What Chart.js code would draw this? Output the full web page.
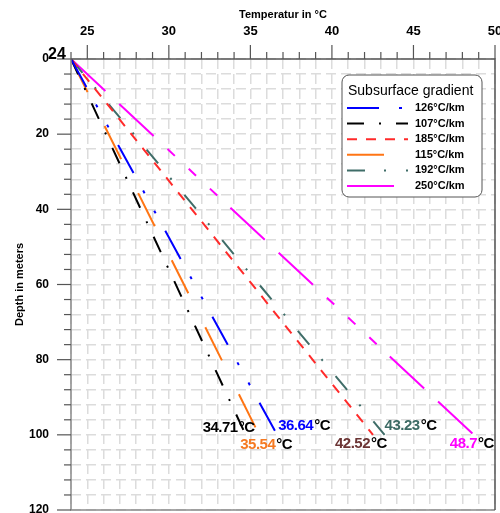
<!DOCTYPE html>
<html>
<head>
<meta charset="utf-8">
<title>Subsurface gradient</title>
<script src="https://cdn.jsdelivr.net/npm/chart.js@4.4.1/dist/chart.umd.min.js"></script>
<style>
    html, body { margin: 0; padding: 0; background: #fff; }
    #wrap { width: 500px; height: 513px; }
</style>
</head>
<body>
<div id="wrap"><canvas id="gradChart" width="500" height="513"></canvas></div>
<script>
// Dati
const surfaceTemp = 24;
const depths = [0, 100];
const gradientLabels = ['126°C/km', '107°C/km', '185°C/km', '115°C/km', '192°C/km', '250°C/km'];
const bottomTemps = [36.64, 34.71, 42.52, 35.54, 43.23, 48.7];
const xTickLabels = [25, 30, 35, 40, 45, 50];
const yTickLabels = [0, 20, 40, 60, 80, 100, 120];

// Stili delle serie
const lineColors = ['#0000ff', '#000000', '#ff2a2a', '#ff7514', '#3f6d68', '#ff00ff'];
const labelColors = ['#0000ff', '#000000', '#6b3434', '#f57a22', '#3c6a64', '#ff00ff'];
const lineDashes = [
    [32, 20, 3, 20, 3, 20],
    [17, 15, 2, 15],
    [10, 9],
    [37, 38],
    [18, 19, 2, 20],
    [47, 19, 47, 19, 10, 19, 10, 19, 10, 18]
];
// spostamento (px) delle etichette di fondo rispetto alla fine della linea
const labelOffsets = [[1, -9], [-43, -7], [-38, 9], [-19, 10], [0, -9], [-24, 9]];

const FONT = "'Liberation Sans', Arial, sans-serif";

const datasets = gradientLabels.map((label, i) => ({
    label: label,
    data: depths.map((d, k) => ({ x: k === 0 ? surfaceTemp : bottomTemps[i], y: d })),
    showLine: true,
    borderColor: lineColors[i],
    backgroundColor: lineColors[i],
    borderWidth: 2,
    borderDash: lineDashes[i],
    pointRadius: 0,
    fill: false
}));

// Cornice, tacche, legenda ed etichette
const decorPlugin = {
    id: 'decor',
    afterDatasetsDraw(chart) {
        const ctx = chart.ctx;
        const area = chart.chartArea;
        const xs = chart.scales.x;
        const ys = chart.scales.y;
        ctx.save();

        // cornice
        ctx.setLineDash([]);
        ctx.lineWidth = 1.5;
        ctx.strokeStyle = '#8a8a8a';
        ctx.beginPath();
        ctx.moveTo(area.left, area.top);
        ctx.lineTo(area.left, area.bottom);
        ctx.lineTo(area.right, area.bottom);
        ctx.stroke();
        ctx.strokeStyle = '#555';
        ctx.beginPath();
        ctx.moveTo(area.left, area.top);
        ctx.lineTo(area.right, area.top);
        ctx.lineTo(area.right, area.bottom);
        ctx.stroke();

        // tacche asse x (in alto)
        ctx.strokeStyle = '#555';
        ctx.lineWidth = 1.2;
        for (let v = xs.min; v <= xs.max; v++) {
            const px = xs.getPixelForValue(v);
            const len = v % 5 === 0 ? 14 : 7;
            ctx.beginPath();
            ctx.moveTo(px, area.top);
            ctx.lineTo(px, area.top - len);
            ctx.stroke();
        }
        // tacche asse y (a sinistra)
        for (let v = ys.min; v <= ys.max; v += 4) {
            const py = ys.getPixelForValue(v);
            const len = v % 20 === 0 ? 14 : 7;
            ctx.beginPath();
            ctx.moveTo(area.left, py);
            ctx.lineTo(area.left - len, py);
            ctx.stroke();
        }

        // etichetta "24" dell'origine
        ctx.fillStyle = '#000';
        ctx.font = 'bold 16px ' + FONT;
        ctx.textAlign = 'left';
        ctx.textBaseline = 'alphabetic';
        ctx.fillText(String(surfaceTemp), 48, 58.5);

        // legenda
        const bx = 342, by = 75, bw = 140, bh = 122;
        ctx.fillStyle = '#fff';
        ctx.strokeStyle = '#555';
        ctx.lineWidth = 1;
        ctx.beginPath();
        ctx.roundRect(bx, by, bw, bh, 7);
        ctx.fill();
        ctx.stroke();
        ctx.fillStyle = '#000';
        ctx.font = '14px ' + FONT;
        ctx.textBaseline = 'middle';
        ctx.fillText('Subsurface gradient', 348, 91);
        chart.data.datasets.forEach((ds, i) => {
            const ry = 108 + i * 15.6;
            ctx.strokeStyle = ds.borderColor;
            ctx.lineWidth = 2;
            ctx.setLineDash(ds.borderDash);
            ctx.beginPath();
            ctx.moveTo(347, ry);
            ctx.lineTo(408, ry);
            ctx.stroke();
            ctx.setLineDash([]);
            ctx.fillStyle = '#000';
            ctx.font = 'bold 11px ' + FONT;
            ctx.fillText(ds.label, 415, ry);
        });

        // etichette di temperatura a fondo pozzo
        ctx.font = 'bold 15px ' + FONT;
        ctx.letterSpacing = '-0.5px';
        ctx.textBaseline = 'middle';
        bottomTemps.forEach((t, i) => {
            const ex = xs.getPixelForValue(t);
            const ey = ys.getPixelForValue(depths[depths.length - 1]);
            const tx = ex + labelOffsets[i][0];
            const ty = ey + labelOffsets[i][1];
            const num = String(t);
            ctx.fillStyle = labelColors[i];
            ctx.fillText(num, tx, ty);
            const w = ctx.measureText(num).width;
            ctx.fillStyle = '#000';
            ctx.fillText('°C', tx + w + 1, ty);
        });
        ctx.restore();
    }
};

const ctx = document.getElementById('gradChart').getContext('2d');

new Chart(ctx, {
    type: 'scatter',
    data: { datasets: datasets },
    plugins: [decorPlugin],
    options: {
        responsive: false,
        animation: false,
        layout: { padding: { left: 0, top: 0, right: 5, bottom: 3 } },
        scales: {
            x: {
                type: 'linear',
                position: 'top',
                min: 24,
                max: 50,
                afterFit: (scale) => {
                    scale.height = 59;
                    scale.paddingLeft = 0;
                    scale.paddingRight = 0;
                },
                ticks: {
                    stepSize: 1,
                    autoSkip: false,
                    maxRotation: 0,
                    padding: 20,
                    color: '#000',
                    font: { family: FONT, size: 13, weight: 'bold' },
                    callback: (v) => xTickLabels.includes(v) ? String(v) : ''
                },
                grid: {
                    color: '#dcdcdc',
                    lineWidth: 1.5,
                    drawTicks: false
                },
                border: { display: false, dash: [10, 5] },
                title: {
                    display: true,
                    text: 'Temperatur in °C',
                    color: '#000',
                    font: { family: FONT, size: 11, weight: 'bold' },
                    padding: { top: 8, bottom: 0 }
                }
            },
            y: {
                type: 'linear',
                position: 'left',
                reverse: true,
                min: 0,
                max: 120,
                afterFit: (scale) => {
                    scale.width = 71;
                    scale.paddingTop = 0;
                    scale.paddingBottom = 0;
                },
                ticks: {
                    stepSize: 4,
                    autoSkip: false,
                    padding: 22,
                    color: '#000',
                    font: { family: FONT, size: 12, weight: 'bold' },
                    callback: (v) => yTickLabels.includes(v) ? String(v) : ''
                },
                grid: {
                    color: '#dcdcdc',
                    lineWidth: 1.5,
                    drawTicks: false
                },
                border: { display: false, dash: [10, 5] },
                title: {
                    display: true,
                    text: 'Depth in meters',
                    color: '#000',
                    font: { family: FONT, size: 11, weight: 'bold' },
                    padding: { top: 13, bottom: 0 }
                }
            }
        },
        plugins: {
            legend: { display: false },
            tooltip: { enabled: false }
        }
    }
});
</script>
</body>
</html>
